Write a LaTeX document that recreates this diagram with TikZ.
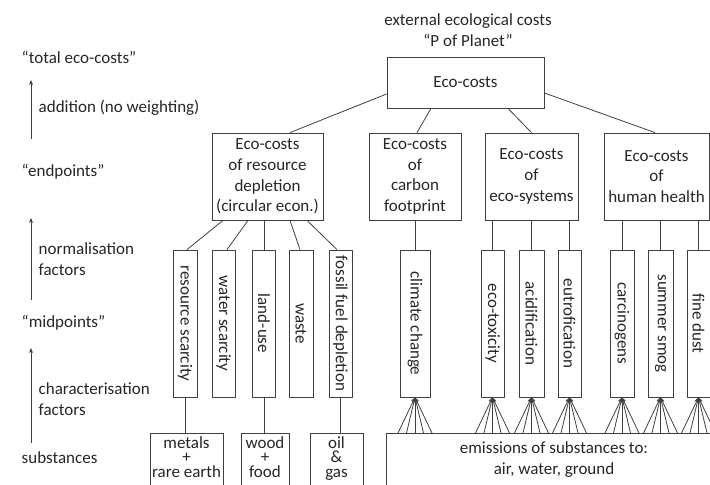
\documentclass[tikz,border=0pt]{standalone}
\usepackage{fontspec}
\setmainfont{Carlito}
\usetikzlibrary{calc,arrows.meta}

\begin{document}
\begin{tikzpicture}[-,>={Stealth[length=5bp,width=4bp]},x=1bp,y=-1bp,line width=0.8bp,color=black!75,text=black!85,font=\fontsize{17bp}{20.7bp}\selectfont,
    main node/.style={draw,align=center,inner sep=0pt},
    mid node/.style={draw,rotate=-90,inner sep=0pt,minimum width=147bp,minimum height=24bp},
    sub node/.style={draw,align=center,anchor=north,inner xsep=0pt,inner ysep=3bp,text depth=40bp,font=\fontsize{17bp}{14.5bp}\selectfont},
    side node/.style={anchor=west,align=left}]
\useasboundingbox (0,0) rectangle (710,485);

% levels on the left
\node[side node] (t) at (18,57) {“total eco-costs”};
\node[side node] (e) at (18,172) {“endpoints”};
\node[side node] (m) at (18,323) {“midpoints”};
\node[side node] (s) at (18,458) {substances};
\node[side node] (f1) at (35,108) {addition (no weighting)};
\node[side node] (f2) at (35,259.5) {normalisation\\factors};
\node[side node] (f3) at (35,399) {characterisation\\factors};
\coordinate (a1) at (31,139); \coordinate (a2) at (31,80);
\coordinate (b1) at (31,300); \coordinate (b2) at (31,218);
\coordinate (c1) at (31,443); \coordinate (c2) at (31,348);
\draw[->] (a1) -- (a2);
\draw[->] (b1) -- (b2);
\draw[->] (c1) -- (c2);

% endpoints
\node[align=center] (p) at (468,30.5) {external ecological costs\\“P of Planet”};
\node[main node,minimum width=157bp,minimum height=51bp] (0) at (465.5,82.5) {Eco-costs};
\node[main node,minimum width=111bp,minimum height=87bp] (1) at (267.5,176.5) {Eco-costs\\of resource\\depletion\\(circular econ.)};
\node[main node,minimum width=92bp,minimum height=87bp] (2) at (415,176.5) {Eco-costs\\of\\carbon\\footprint};
\node[main node,minimum width=93bp,minimum height=87bp] (3) at (531.5,176.5) {Eco-costs\\of\\eco-systems};
\node[main node,minimum width=105bp,minimum height=87bp] (4) at (656.5,176.5) {Eco-costs\\of\\human health};

% midpoints
\foreach \n/\x/\w/\t in {5/185/24/resource scarcity,6/223.5/23/water scarcity,7/264/23/land-use,8/301/24/waste,9/340.5/23/fossil fuel depletion,10/415/30/climate change,11/492.5/23/eco-toxicity,12/531.5/25/acidification,13/569.5/23/eutrofication,14/622/24/carcinogens,15/660.5/25/summer smog,16/698.5/23/fine dust}
    \node[mid node,minimum height=\w bp] (\n) at (\x,323.5) {\t};

% substances
\node[sub node,minimum width=73bp] (17) at (186.5,433) {metals\\+\\rare earth};
\node[sub node,minimum width=48bp] (18) at (265,433) {wood\\+\\food};
\node[sub node,minimum width=53bp] (19) at (336.5,433) {oil\\\&\\gas};
\node[sub node,minimum width=336bp,inner ysep=8bp,font=\fontsize{17bp}{21bp}\selectfont] (20) at (554,433) {emissions of substances to:\\air, water, ground};

\path
    ($(0.west)+(0,11.5)$) edge ($(1.north)+(22.5,0)$)
    ($(0.south)+(-34.5,0)$) edge ($(2.north)+(2,0)$)
    ($(0.south)+(42.5,0)$) edge (3.north)
    ($(0.east)+(0,10.5)$) edge ($(4.north)+(-1.5,0)$)
    ($(1.south)+(-44.5,0)$) edge ($(5.west)+(2,0)$)
    ($(1.south)+(-19.5,0)$) edge ($(6.west)+(3.5,0)$)
    (1.south -| 7.west) edge (7.west)
    ($(1.south)+(22.5,0)$) edge ($(8.west)+(-1,0)$)
    ($(1.south)+(39.5,0)$) edge ($(9.west)+(-3.5,0)$)
    (2.south) edge (10.west)
    (3.south -| 11.west) edge (11.west)
    (3.south -| 12.west) edge (12.west)
    (3.south -| 13.west) edge (13.west)
    (4.south -| 14.west) edge (14.west)
    (4.south -| 15.west) edge (15.west)
    (4.south -| 16.west) edge (16.west)
    (5.east) edge (5.east |- 17.north)
    (7.east) edge (7.east |- 18.north)
    (9.east) edge (9.east |- 19.north)
    ;

\foreach \n in {10,...,16}
    \foreach \d in {-17,-8.5,0,8.5,17}
        \draw[->] ($(\n.east |- 20.north)+(\d,0)$) -- (\n.east);
\end{tikzpicture}
\end{document}
